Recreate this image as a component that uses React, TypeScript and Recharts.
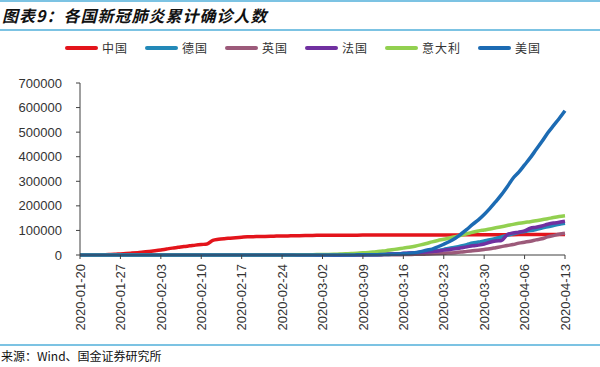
import React from "react";
import { LineChart, Line, XAxis, YAxis } from "recharts";

const dates = [
  "2020-01-20","2020-01-21","2020-01-22","2020-01-23","2020-01-24","2020-01-25","2020-01-26","2020-01-27","2020-01-28","2020-01-29","2020-01-30","2020-01-31",
  "2020-02-01","2020-02-02","2020-02-03","2020-02-04","2020-02-05","2020-02-06","2020-02-07","2020-02-08","2020-02-09","2020-02-10",
  "2020-02-11","2020-02-12","2020-02-13","2020-02-14","2020-02-15","2020-02-16","2020-02-17","2020-02-18","2020-02-19","2020-02-20",
  "2020-02-21","2020-02-22","2020-02-23","2020-02-24","2020-02-25","2020-02-26","2020-02-27","2020-02-28","2020-02-29",
  "2020-03-01","2020-03-02","2020-03-03","2020-03-04","2020-03-05","2020-03-06","2020-03-07","2020-03-08","2020-03-09","2020-03-10",
  "2020-03-11","2020-03-12","2020-03-13","2020-03-14","2020-03-15","2020-03-16","2020-03-17","2020-03-18","2020-03-19","2020-03-20",
  "2020-03-21","2020-03-22","2020-03-23","2020-03-24","2020-03-25","2020-03-26","2020-03-27","2020-03-28","2020-03-29","2020-03-30","2020-03-31",
  "2020-04-01","2020-04-02","2020-04-03","2020-04-04","2020-04-05","2020-04-06","2020-04-07","2020-04-08","2020-04-09","2020-04-10",
  "2020-04-11","2020-04-12","2020-04-13",
];

const china = [
  291, 440, 571, 830, 1287, 1975, 2744, 4515, 5974, 7711, 9692, 11791,
  14380, 17205, 20438, 24324, 28018, 31161, 34546, 37198, 40171, 42638, 44653, 59804, 63851, 66492, 68500, 70548, 72436, 74185, 74576, 75077, 75567, 76396, 77041, 77262, 77779, 78190, 78630, 78959, 79389,
  79968, 80174, 80303, 80422, 80565, 80710, 80813, 80859, 80904, 80924, 80955, 80992, 81003, 81021, 81048, 81077, 81116, 81151, 81235, 81300, 81416, 81498, 81601, 81747, 81846, 81960, 82078, 82213, 82341, 82447, 82545,
  82631, 82724, 82802, 82875, 82930, 83005, 83071, 83157, 83249, 83305, 83369, 83482, 83597,
];

const germany = [
  0, 0, 0, 0, 0, 0, 0, 1, 4, 4, 4, 5,
  8, 10, 12, 12, 12, 12, 13, 13, 14, 14, 16, 16, 16, 16, 16, 16, 16, 16, 16, 16, 16, 16, 16, 16, 17, 27, 46, 48, 79,
  130, 157, 196, 262, 400, 639, 795, 902, 1139, 1296, 1567, 2369, 3062, 3795, 4838, 6012, 7156, 8198, 10999, 13957, 16662, 18610, 22672, 27436, 31554, 36508, 42288, 48582, 52547, 57298, 61913,
  67366, 73522, 79696, 85778, 91714, 95391, 99225, 104000, 109500, 115000, 120000, 125000, 129000,
];

const uk = [
  0, 0, 0, 0, 0, 0, 0, 0, 0, 0, 0, 2,
  2, 2, 2, 2, 2, 2, 3, 3, 3, 8, 8, 9, 9, 9, 9, 9, 9, 9, 9, 9, 9, 9, 9, 13, 13, 15, 15, 20, 23,
  36, 40, 51, 86, 116, 164, 207, 274, 322, 384, 459, 459, 802, 1144, 1145, 1551, 1960, 2642, 2716, 4014, 5067, 5745, 6726, 8164, 9640, 11812, 14745, 17312, 19780, 22453, 25481,
  29865, 34173, 38689, 42477, 48436, 52279, 55949, 61474, 65872, 73758, 78991, 84279, 88621,
];

const france = [
  0, 0, 0, 0, 2, 3, 3, 3, 4, 5, 5, 6,
  6, 6, 6, 6, 6, 6, 6, 11, 11, 11, 11, 11, 11, 11, 12, 12, 12, 12, 12, 12, 12, 12, 12, 12, 14, 18, 38, 57, 100,
  130, 191, 204, 285, 377, 653, 949, 1126, 1209, 1784, 2281, 2281, 3661, 4469, 4499, 6633, 7652, 9043, 10871, 12612, 14282, 16018, 19856, 22304, 25233, 29155, 32964, 37575, 40174, 44550, 52128,
  56989, 59105, 83000, 90000, 93000, 98000, 109000, 113000, 118000, 125000, 130000, 133000, 137000,
];

const italy = [
  0, 0, 0, 0, 0, 0, 0, 0, 0, 0, 0, 2,
  2, 2, 2, 2, 2, 2, 3, 3, 3, 3, 3, 3, 3, 3, 3, 3, 3, 3, 3, 3, 20, 79, 157, 229, 322, 453, 655, 888, 1128,
  1694, 2036, 2502, 3089, 3858, 4636, 5883, 7375, 9172, 10149, 12462, 15113, 17660, 21157, 24747, 27980, 31506, 35713, 41035, 47021, 53578, 59138, 63927, 69176, 74386, 80589, 86498, 92472, 97689, 101739, 105792,
  110574, 115242, 119827, 124632, 128948, 132547, 135586, 139422, 143626, 147577, 152271, 156363, 159516,
];

const usa = [
  0, 1, 1, 1, 2, 2, 5, 5, 5, 5, 6, 7,
  8, 8, 11, 11, 12, 12, 12, 12, 12, 12, 13, 13, 14, 15, 15, 15, 15, 15, 15, 15, 15, 15, 15, 15, 53, 53, 59, 60, 68,
  75, 100, 124, 158, 221, 319, 435, 541, 704, 994, 1301, 1630, 2183, 2770, 3613, 4596, 6344, 9197, 13779, 19367, 24192, 33592, 43781, 54856, 68211, 85435, 104126, 124686, 143025, 164620, 189618,
  216722, 245540, 277965, 312245, 337072, 366667, 396223, 429052, 461437, 496535, 526396, 555313, 587000,
];

const yTicks = [0, 100000, 200000, 300000, 400000, 500000, 600000, 700000];

const seriesNames = ["中国", "德国", "英国", "法国", "意大利", "美国"];
const seriesKeys = ["china", "germany", "uk", "france", "italy", "usa"];
const seriesColors = ["#E3141B", "#2389B8", "#9C5A7A", "#7030A0", "#92D050", "#1C6BB3"];
const seriesValues = [china, germany, uk, france, italy, usa];

const data = dates.map((d, i) => {
  const row: Record<string, any> = { date: d };
  seriesKeys.forEach((k, j) => {
    row[k] = seriesValues[j][i];
  });
  return row;
});

const FONT = "'Liberation Sans', Arial, sans-serif";
const CJK = "'Noto Sans CJK SC', sans-serif";

const XTick = (props: any) => {
  const { x, y, payload } = props;
  return (
    <text
      x={x}
      y={y}
      transform={`rotate(-90, ${x}, ${y})`}
      textAnchor="end"
      dy="0.36em"
      fontSize={13}
      fill="#333"
      fontFamily={FONT}
    >
      {payload.value}
    </text>
  );
};

const LegendBlock = () => (
  <div style={{ position: "absolute", top: 40, left: 65, display: "flex", alignItems: "center", height: 16 }}>
    {seriesNames.map((n, i) => (
      <div key={n} style={{ display: "flex", alignItems: "center", marginRight: 17 }}>
        <div style={{ width: 33, height: 4, background: seriesColors[i], borderRadius: 2 }} />
        <span style={{ marginLeft: 4, fontSize: 12, fontFamily: CJK, color: "#333", lineHeight: "16px", letterSpacing: 1 }}>{n}</span>
      </div>
    ))}
  </div>
);

export default function App() {
  return (
    <div style={{ position: "fixed", left: 0, top: 0, width: 600, height: 367, background: "#fff", overflow: "hidden" }}>
      <div style={{ position: "absolute", left: 0, top: 0, width: 600, height: 2, background: "#7CC3E3" }} />
      <div
        style={{
          position: "absolute",
          left: 2,
          top: 4,
          fontSize: 16,
          fontWeight: "bold",
          fontStyle: "italic",
          fontFamily: CJK,
          color: "#111",
          lineHeight: "22px",
          whiteSpace: "nowrap",
          letterSpacing: 1,
        }}
      >
        图表9：各国新冠肺炎累计确诊人数
      </div>
      <div style={{ position: "absolute", left: 0, top: 29, width: 600, height: 2, background: "#7CC3E3" }} />
      <LegendBlock />
      <div style={{ position: "absolute", left: 0, top: 0 }}>
        <LineChart
          width={600}
          height={367}
          data={data}
          margin={{ top: 83, right: 35, bottom: 32, left: 0 }}
        >
          <XAxis
            dataKey="date"
            interval={6}
            height={80}
            tick={<XTick />}
            tickSize={4}
            tickMargin={5}
            axisLine={{ stroke: "#404040", strokeWidth: 1 }}
            tickLine={{ stroke: "#404040" }}
          />
          <YAxis
            domain={[0, 700000]}
            ticks={yTicks}
            width={80}
            tickSize={4}
            tickMargin={14}
            tick={{ fontSize: 13, fill: "#333", fontFamily: FONT }}
            axisLine={{ stroke: "#404040", strokeWidth: 1 }}
            tickLine={{ stroke: "#404040" }}
          />
          {seriesKeys.map((k, i) => (
            <Line
              key={k}
              type="monotone"
              dataKey={k}
              name={seriesNames[i]}
              stroke={seriesColors[i]}
              strokeWidth={3.5}
              dot={false}
              isAnimationActive={false}
            />
          ))}
        </LineChart>
      </div>
      <div style={{ position: "absolute", left: 0, top: 344, width: 600, height: 2, background: "#7CC3E3" }} />
      <div
        style={{
          position: "absolute",
          left: 1,
          top: 348,
          fontSize: 12,
          fontFamily: CJK,
          color: "#111",
          lineHeight: "16px",
          whiteSpace: "nowrap",
        }}
      >
        来源：Wind、国金证券研究所
      </div>
    </div>
  );
}
